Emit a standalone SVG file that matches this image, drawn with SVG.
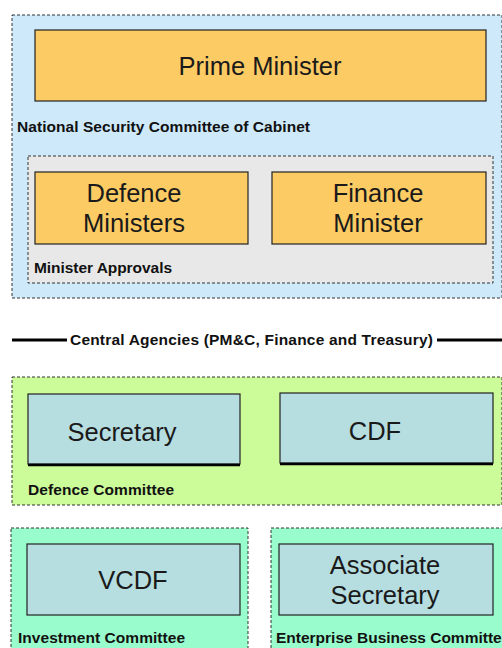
<svg xmlns="http://www.w3.org/2000/svg" width="502" height="648" viewBox="0 0 502 648">
<style>
.panel{stroke:#333;stroke-width:1;stroke-dasharray:3,2}
.orange{fill:#fccb64;stroke:#222;stroke-width:1.2}
.teal{fill:#b6dde0;stroke:#222;stroke-width:1.2}
.big{font-family:"Liberation Sans",Arial,sans-serif;font-size:25.5px;fill:#1a1a1a;text-anchor:middle}
.lbl{font-family:"Liberation Sans",Arial,sans-serif;font-size:15.5px;font-weight:bold;fill:#111}
.shadow{stroke:#000;stroke-width:2.5}
</style>
<rect width="502" height="648" fill="#ffffff"/>
<g id="nsc">
<rect class="panel" x="12" y="15" width="490" height="283" fill="#cde9fa"/>
<text class="lbl" x="17" y="132" textLength="293">National Security Committee of Cabinet</text>
</g>
<g id="pm">
<rect class="orange" x="35" y="30" width="451" height="71"/>
<text class="big" x="260" y="75">Prime Minister</text>
</g>
<g id="approvals">
<rect class="panel" x="28" y="156" width="465" height="127" fill="#e8e8e8"/>
<text class="lbl" x="34" y="273" textLength="138">Minister Approvals</text>
</g>
<g id="defence-ministers">
<rect class="orange" x="35" y="172" width="213" height="72"/>
<text class="big" x="134" y="202">Defence</text>
<text class="big" x="134" y="232">Ministers</text>
</g>
<g id="finance-minister">
<rect class="orange" x="272" y="172" width="214" height="72"/>
<text class="big" x="378" y="202">Finance</text>
<text class="big" x="378" y="232">Minister</text>
</g>
<g id="connectors">
<line x1="12" y1="340" x2="67" y2="340" stroke="#000" stroke-width="3"/>
<line x1="437" y1="340" x2="502" y2="340" stroke="#000" stroke-width="3"/>
</g>
<g id="central-agencies">
<text class="lbl" x="70" y="345" textLength="363">Central Agencies (PM&amp;C, Finance and Treasury)</text>
</g>
<g id="defence-committee">
<rect class="panel" x="12" y="377" width="490" height="128" fill="#ccfb99"/>
<text class="lbl" x="28" y="495" textLength="146">Defence Committee</text>
</g>
<g id="secretary">
<rect class="teal" x="28" y="394" width="212" height="70"/>
<line class="shadow" x1="28" y1="465" x2="240" y2="465"/>
<text class="big" x="122" y="441">Secretary</text>
</g>
<g id="cdf">
<rect class="teal" x="280" y="393" width="213" height="70"/>
<line class="shadow" x1="280" y1="464" x2="493" y2="464"/>
<text class="big" x="375" y="440">CDF</text>
</g>
<g id="investment-committee">
<rect class="panel" x="11" y="528" width="237" height="125" fill="#99fccc"/>
<text class="lbl" x="18" y="643" textLength="167">Investment Committee</text>
</g>
<g id="vcdf">
<rect class="teal" x="27" y="544" width="213" height="71"/>
<text class="big" x="133" y="589">VCDF</text>
</g>
<g id="enterprise-committee">
<rect class="panel" x="271" y="528" width="235" height="125" fill="#99fccc"/>
<text class="lbl" x="276" y="643">Enterprise Business Committee</text>
</g>
<g id="associate-secretary">
<rect class="teal" x="279" y="544" width="214" height="71"/>
<text class="big" x="385" y="574">Associate</text>
<text class="big" x="385" y="604">Secretary</text>
</g>
</svg>
